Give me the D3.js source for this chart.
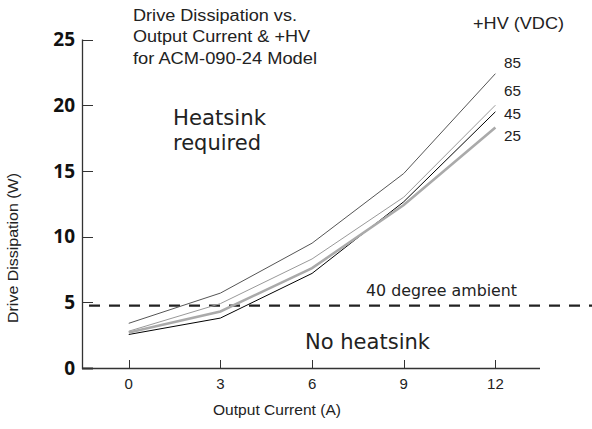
<!DOCTYPE html>
<html><head><meta charset="utf-8">
<script src="https://cdn.jsdelivr.net/npm/d3@7"></script>
<style>body{margin:0;background:#fff}svg{display:block}</style>
</head><body>
<svg id="c" width="592" height="429"></svg>
<script>
const currents = [0, 3, 6, 9, 12];
const xTicks = [0, 3, 6, 9, 12];
const yTicks = [0, 5, 10, 15, 20, 25];
const hv85 = [3.4, 5.7, 9.5, 14.8, 22.4];
const hv65 = [2.8, 4.9, 8.3, 13.0, 20.0];
const hv45 = [2.55, 3.8, 7.2, 12.65, 19.5];
const hv25 = [2.7, 4.3, 7.6, 12.4, 18.3];
const seriesNames = ["85", "65", "45", "25"];
const ambientLimit = 4.75;
const titleLines = ["Drive Dissipation vs.", "Output Current & +HV", "for ACM-090-24 Model"];

const series = [
  {name: "85", values: hv85, color: "#555", width: 1},
  {name: "65", values: hv65, color: "#999", width: 1},
  {name: "45", values: hv45, color: "#000", width: 1},
  {name: "25", values: hv25, color: "#aaa", width: 2.6}
];

const svg = d3.select("#c");
const x = d3.scaleLinear().domain([-1.53, 13.46]).range([82, 540]);
const y = d3.scaleLinear().domain([0, 25]).range([368, 39.5]);
const ARIAL = "'Liberation Sans', Arial, sans-serif";

function txt(t, xp, yp, size, opts = {}) {
  const el = svg.append("text").attr("x", xp).attr("y", yp).attr("dy", "0.35em")
    .attr("font-family", opts.family || ARIAL).attr("font-size", size)
    .attr("fill", opts.fill || "#222").attr("text-anchor", opts.anchor || "start").text(t);
  if (opts.len) el.attr("textLength", opts.len).attr("lengthAdjust", "spacingAndGlyphs");
  if (opts.weight) el.attr("font-weight", opts.weight);
  if (opts.transform) el.attr("transform", opts.transform);
  return el;
}

// axes
svg.append("line").attr("x1", 82.5).attr("x2", 82.5).attr("y1", y(25)).attr("y2", y(0)+1)
  .attr("stroke", "#333").attr("stroke-width", 1.3);
svg.append("line").attr("x1", 82).attr("x2", 540).attr("y1", y(0)+0.5).attr("y2", y(0)+0.5)
  .attr("stroke", "#333").attr("stroke-width", 1.3);
yTicks.forEach(t => {
  svg.append("line").attr("x1", 82).attr("x2", 93).attr("y1", Math.round(y(t))+0.5).attr("y2", Math.round(y(t))+0.5)
    .attr("stroke", "#333").attr("stroke-width", t === 0 ? 2 : 1);
  txt(t, 75, y(t), 19, {anchor: "end", family: "'Open Sans', sans-serif", weight: "bold", fill: "#111"});
});
xTicks.forEach(t => {
  svg.append("line").attr("x1", Math.round(x(t))+0.5).attr("x2", Math.round(x(t))+0.5).attr("y1", y(0)-8).attr("y2", y(0))
    .attr("stroke", "#333").attr("stroke-width", 1);
  txt(t, x(t), 384, 15, {anchor: "middle"});
});

// dashed ambient line
svg.append("line").attr("x1", 89).attr("x2", 592).attr("y1", y(ambientLimit)).attr("y2", y(ambientLimit))
  .attr("stroke", "#222").attr("stroke-width", 2.2).attr("stroke-dasharray", "11,9");

// lines
const line = d3.line().x((d, i) => x(currents[i])).y(d => y(d));
series.forEach(s => {
  svg.append("path").attr("d", line(s.values)).attr("fill", "none")
    .attr("stroke", s.color).attr("stroke-width", s.width);
});

// series labels
const labelY = {"85": 63, "65": 91, "45": 114, "25": 136};
seriesNames.forEach(n => txt(n, 504, labelY[n], 15.5, {len: 17}));
txt("+HV (VDC)", 473, 23, 16, {len: 91});

// title
const titleLen = [164, 177, 184];
titleLines.forEach((t, i) => txt(t, 133, 15 + i * 21.5, 16, {len: titleLen[i]}));

// annotations
const DJV = "'DejaVu Sans', Verdana, sans-serif";
txt("Heatsink", 173, 118, 21, {family: DJV, len: 93});
txt("required", 173, 143, 21, {family: DJV});
txt("No heatsink", 305, 342, 21, {family: DJV, len: 125});
txt("40 degree ambient", 366, 290, 16, {family: DJV, len: 151});

// axis titles
txt("Output Current (A)", 213, 410, 14, {len: 128});
txt("Drive Dissipation (W)", 0, 0, 14, {anchor: "middle", len: 150, transform: "translate(13,248) rotate(-90)"});
</script>
</body></html>
